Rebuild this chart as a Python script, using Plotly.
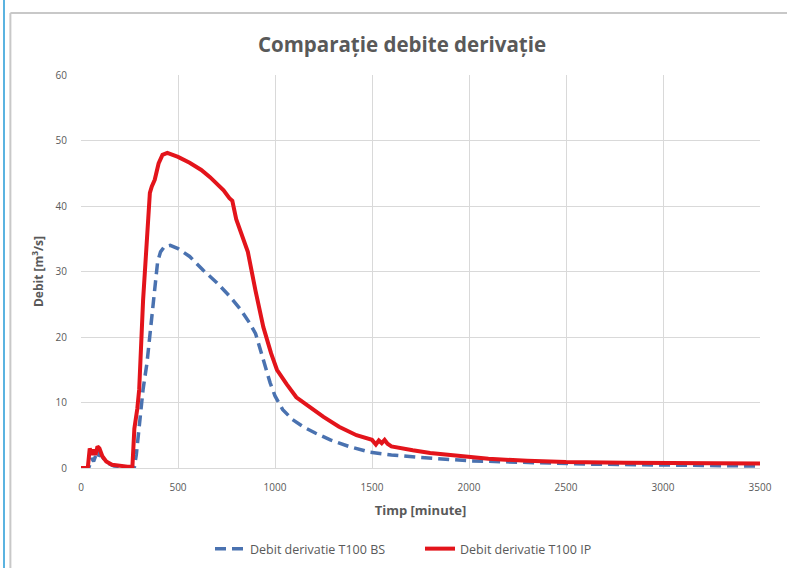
import plotly.graph_objects as go

# timp [minute] si debit [m3/s] - T100 BS
t_bs = [0, 40, 55, 65, 75, 85, 95, 105, 120, 140,
        170, 210, 250, 275, 285, 295, 305, 320, 340, 355,
        366, 375, 385, 395, 410, 430, 460, 500, 560, 630,
        700, 770, 820, 870, 900, 925, 950, 975, 1000, 1040,
        1090, 1145, 1210, 1285, 1380, 1490, 1600, 1750, 2000, 2300,
        2600, 3000, 3500]
q_bs = [0, 0, 1.5, 1.0, 1.8, 1.3, 2.2, 2.0, 1.2, 0.7,
        0.3, 0.2, 0.1, 0.1, 2.0, 5, 8.4, 12, 16, 20,
        23, 26, 28.7, 31.5, 33, 33.8, 34, 33.5, 32.3, 30.2,
        28.3, 26.1, 24.3, 22.1, 20.5, 18, 15.5, 13, 11, 8.9,
        7.4, 6.3, 5.3, 4.3, 3.3, 2.4, 2.0, 1.6, 1.1, 0.8,
        0.6, 0.45, 0.3]

# T100 IP
t_ip = [0, 35, 45, 55, 65, 75, 85, 95, 110, 130,
        160, 200, 240, 265, 275, 290, 300, 320, 340, 355,
        365, 380, 400, 420, 445, 470, 500, 560, 620, 665,
        700, 735, 765, 780, 800, 830, 860, 900, 940, 980,
        1010, 1060, 1110, 1180, 1250, 1330, 1420, 1500, 1520, 1535,
        1550, 1565, 1580, 1600, 1650, 1710, 1800, 1900, 1970, 2100,
        2300, 2500, 2800, 3100, 3500]
q_ip = [0, 0, 3.0, 2.0, 2.8, 2.0, 3.3, 3.0, 1.8, 1.0,
        0.5, 0.3, 0.2, 0.2, 6, 9, 12, 25.6, 36, 42,
        43, 44, 46.5, 47.8, 48.1, 47.9, 47.5, 46.6, 45.5, 44.4,
        43.5, 42.4, 41.2, 40.8, 38, 35.5, 33, 27, 21.5, 17.5,
        15, 12.8, 10.8, 9.3, 7.8, 6.3, 5.0, 4.3, 3.6, 4.2,
        3.8, 4.3, 3.7, 3.3, 3.0, 2.7, 2.3, 2.0, 1.7, 1.4,
        1.1, 0.9, 0.8, 0.75, 0.7]

x_ticks = [0, 500, 1000, 1500, 2000, 2500, 3000, 3500]
y_ticks = [0, 10, 20, 30, 40, 50, 60]

grey = "#595959"

fig = go.Figure()
fig.add_trace(go.Scatter(
    x=t_bs, y=q_bs, mode="lines", name="Debit derivatie T100 BS",
    line=dict(color="#4a72b0", width=3.5, dash="11px,6px")
))
fig.add_trace(go.Scatter(
    x=t_ip, y=q_ip, mode="lines", name="Debit derivatie T100 IP",
    line=dict(color="#e3141b", width=4)
))

# chenarul din jurul graficului
fig.add_shape(type="line", xref="paper", yref="paper",
              x0=-0.1134, x1=-0.1134, y0=1.2, y1=-0.27,
              line=dict(color="#5bb3e0", width=2))
fig.add_shape(type="line", xref="paper", yref="paper",
              x0=-0.104, x1=-0.104, y0=1.158, y1=-0.27,
              line=dict(color="#c8c8c8", width=2))
fig.add_shape(type="line", xref="paper", yref="paper",
              x0=-0.104, x1=1.05, y0=1.158, y1=1.158,
              line=dict(color="#c8c8c8", width=2))

fig.update_layout(
    width=787, height=568,
    paper_bgcolor="white", plot_bgcolor="white",
    font=dict(family="Open Sans", color=grey, size=10),
    title=dict(text="<b>Comparație debite derivație</b>", x=402 / 787, xanchor="center",
               xref="container", y=1 - 45 / 568, yanchor="middle",
               font=dict(size=20.5, color=grey)),
    margin=dict(l=81, r=27, t=75, b=100),
    showlegend=True,
    legend=dict(orientation="h", x=210 / 787, xanchor="left", xref="container",
                y=1 - 549 / 568, yanchor="middle", yref="container",
                font=dict(size=12.5, color=grey), traceorder="normal",
                entrywidth=165, entrywidthmode="pixels"),
    xaxis=dict(range=[0, 3500], tickvals=x_ticks, showgrid=True, gridcolor="#d9d9d9",
               zeroline=False, showline=True, linecolor="#d9d9d9", ticks="",
               ticklabelstandoff=10, automargin=False,
               title=dict(text="<b>Timp [minute]</b>", font=dict(size=13, color=grey), standoff=12)),
    yaxis=dict(range=[0, 60], tickvals=y_ticks, showgrid=True, gridcolor="#d9d9d9",
               zeroline=False, showline=False, ticks="", ticklabelstandoff=13, automargin=False,
               title=dict(text="<b>Debit [m<sup>3</sup>/s]</b>", font=dict(size=12, color=grey), standoff=9)),
)

fig.write_html("out.html", config={"displayModeBar": False},
               post_script="document.body.style.margin='0';")
